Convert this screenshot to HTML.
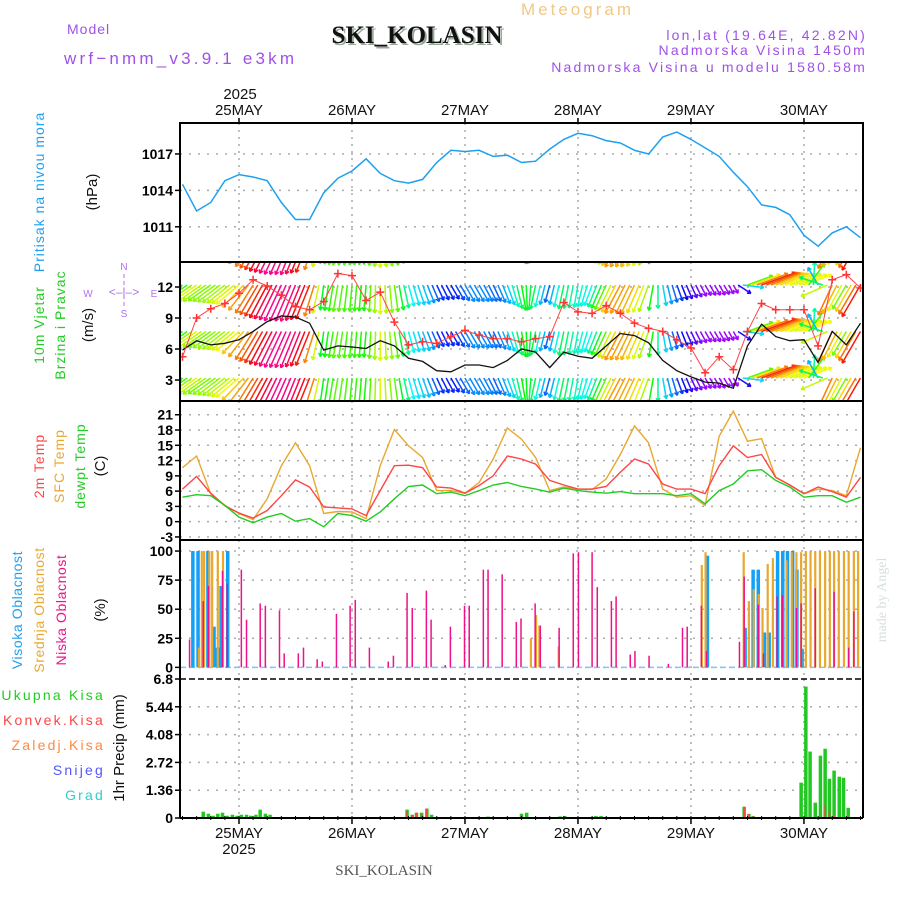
<!DOCTYPE html>
<html><head><meta charset="utf-8"><title>Meteogram SKI_KOLASIN</title>
<style>
html,body{margin:0;padding:0;background:#fff;}
svg{display:block;font-family:"Liberation Sans",sans-serif;}
</style></head>
<body>
<svg id="chart" width="900" height="900" viewBox="0 0 900 900" xmlns="http://www.w3.org/2000/svg">
<rect x="0" y="0" width="900" height="900" fill="#fff"/>
<g id="header">
  <text x="67" y="34" font-size="14" fill="#a050e8" letter-spacing="1">Model</text>
  <text x="64" y="64" font-size="17" fill="#a050e8" letter-spacing="3.2">wrf−nmm_v3.9.1 e3km</text>
  <text x="419" y="45" font-size="25" font-weight="bold" fill="#9a9" text-anchor="middle" font-family="Liberation Serif,serif">SKI_KOLASIN</text>
  <text x="417" y="43" font-size="25" font-weight="bold" fill="#111" text-anchor="middle" font-family="Liberation Serif,serif">SKI_KOLASIN</text>
  <text x="521" y="15" font-size="17" fill="#f0c888" letter-spacing="3">Meteogram</text>
  <text x="867" y="40" font-size="14" fill="#a050e8" text-anchor="end" letter-spacing="2.2">lon,lat (19.64E, 42.82N)</text>
  <text x="867" y="55" font-size="14" fill="#a050e8" text-anchor="end" letter-spacing="2.2">Nadmorska Visina 1450m</text>
  <text x="867" y="72" font-size="14" fill="#a050e8" text-anchor="end" letter-spacing="2.2">Nadmorska Visina u modelu 1580.58m</text>
  <text x="240" y="99" font-size="15" fill="#111" text-anchor="middle">2025</text>
  <text x="384" y="875" font-size="15" fill="#555" text-anchor="middle" font-family="Liberation Serif,serif">SKI_KOLASIN</text>
  <text transform="translate(886,600) rotate(-90)" font-size="14" fill="#d8e0d8" text-anchor="middle" font-family="Liberation Serif,serif">made by Angel</text>
</g>
<g id="sidelabels">
  <text transform="translate(44,192) rotate(-90)" font-size="14" fill="#1e9ff0" text-anchor="middle" letter-spacing="1">Pritisak na nivou mora</text>
  <text transform="translate(97,192) rotate(-90)" font-size="15" fill="#111" text-anchor="middle">(hPa)</text>
  <text transform="translate(44,325) rotate(-90)" font-size="14" fill="#22cc22" text-anchor="middle" letter-spacing="1">10m Vjetar</text>
  <text transform="translate(65,325) rotate(-90)" font-size="14" fill="#22cc22" text-anchor="middle" letter-spacing="1">Brzina i Pravac</text>
  <text transform="translate(93,325) rotate(-90)" font-size="15" fill="#111" text-anchor="middle">(m/s)</text>
  <g fill="#b070f0" font-size="10" text-anchor="middle">
    <text x="124" y="270">N</text>
    <text x="124" y="317">S</text>
    <text x="88" y="297">W</text>
    <text x="154" y="297">E</text>
    <text x="124" y="296" font-size="12">&lt;‒|‒&gt;</text>
    <line x1="124" y1="274" x2="124" y2="308" stroke="#b070f0" stroke-dasharray="4 3"/>
  </g>
  <text transform="translate(44,466) rotate(-90)" font-size="14" fill="#ff4444" text-anchor="middle" letter-spacing="1">2m Temp</text>
  <text transform="translate(64,466) rotate(-90)" font-size="14" fill="#e8a830" text-anchor="middle" letter-spacing="1">SFC Temp</text>
  <text transform="translate(85,466) rotate(-90)" font-size="14" fill="#22cc22" text-anchor="middle" letter-spacing="1">dewpt Temp</text>
  <text transform="translate(105,466) rotate(-90)" font-size="15" fill="#111" text-anchor="middle">(C)</text>
  <text transform="translate(22,610) rotate(-90)" font-size="14" fill="#1e9ff0" text-anchor="middle" letter-spacing="0.6">Visoka Oblacnost</text>
  <text transform="translate(44,610) rotate(-90)" font-size="14" fill="#e8a830" text-anchor="middle" letter-spacing="0.6">Srednja Oblacnost</text>
  <text transform="translate(66,610) rotate(-90)" font-size="14" fill="#ee1188" text-anchor="middle" letter-spacing="0.6">Niska Oblacnost</text>
  <text transform="translate(105,610) rotate(-90)" font-size="15" fill="#111" text-anchor="middle">(%)</text>
  <text x="105" y="700" font-size="14" fill="#22cc22" text-anchor="end" letter-spacing="2.2">Ukupna  Kisa</text>
  <text x="105" y="725" font-size="14" fill="#ff4444" text-anchor="end" letter-spacing="2.2">Konvek.Kisa</text>
  <text x="105" y="750" font-size="14" fill="#ff8844" text-anchor="end" letter-spacing="2.2">Zaledj.Kisa</text>
  <text x="105" y="775" font-size="14" fill="#5555ff" text-anchor="end" letter-spacing="2.2">Snijeg</text>
  <text x="105" y="800" font-size="14" fill="#33cccc" text-anchor="end" letter-spacing="2.2">Grad</text>
  <text transform="translate(124,748) rotate(-90)" font-size="15" fill="#111" text-anchor="middle">1hr Precip (mm)</text>
</g>
<g id="plots"></g>
</svg>
<script>
// ---- time axis ----
const dayLabels = ["25MAY","26MAY","27MAY","28MAY","29MAY","30MAY"];
const dayHours = [12,36,60,84,108,132];
const hours3 = [0,3,6,9,12,15,18,21,24,27,30,33,36,39,42,45,48,51,54,57,60,63,66,69,72,75,78,81,84,87,90,93,96,99,102,105,108,111,114,117,120,123,126,129,132,135,138,141,144];
// ---- pressure (hPa) ----
const pressure = [1014.5,1012.3,1013.0,1014.8,1015.3,1015.1,1014.8,1013.0,1011.6,1011.6,1013.8,1015.0,1015.6,1016.6,1015.4,1014.8,1014.6,1014.9,1016.3,1017.3,1017.2,1017.3,1016.8,1016.9,1016.3,1016.4,1017.4,1018.2,1018.7,1018.5,1018.1,1017.9,1017.3,1017.0,1018.4,1018.8,1018.2,1017.5,1016.8,1015.5,1014.3,1012.8,1012.6,1012.0,1010.3,1009.4,1010.5,1011.0,1010.1];
const pressureTicks = [1011,1014,1017];
// ---- wind ----
const windSpeed = [5.9,6.8,6.4,6.55,6.9,7.7,8.65,9.2,9.1,8.5,5.9,6.3,6.2,6.05,6.8,6.3,5.1,4.8,3.9,3.8,4.45,4.45,4.2,4.9,6.0,5.7,4.2,5.7,5.3,5.1,6.3,7.5,7.3,6.6,4.9,3.9,3.3,2.8,2.7,2.2,6.3,8.4,7.2,6.8,6.9,4.7,7.7,6.4,8.5];
const windGust = [5.25,9.0,9.9,10.4,11.4,12.7,12.1,11.2,10.1,9.8,10.6,13.3,13.1,10.7,11.5,8.6,6.4,6.7,6.55,7.2,7.8,7.35,7.0,7.0,6.7,7.0,7.2,10.5,9.6,9.45,10.2,9.45,8.5,8.0,7.7,6.9,6.1,3.7,5.25,4.0,7.7,10.4,9.8,9.8,9.8,6.3,12.7,13.2,11.9];
const windDirTo = [235,235,235,232,230,212,208,205,202,202,188,190,185,185,180,172,165,160,155,150,150,150,155,160,170,192,195,192,190,200,205,208,205,200,170,160,155,150,150,150,70,70,68,68,70,330,205,210,210];
const windTicks = [3,6,9,12];
// ---- temperature ----
const temp2m = [6.4,8.9,5.6,3.1,1.7,0.7,2.2,5.1,8.2,6.8,2.9,2.7,2.5,1.2,6.1,11,11.1,10.6,6.8,6.6,5.6,7.1,9.0,12.9,12.3,11.3,8.1,7.2,6.4,6.4,6.9,9.7,12.3,11.3,7.4,6.4,6.4,5.5,11,14.9,12.6,13.2,8.7,7.2,5.5,6.8,5.9,4.8,8.7];
const tempSfc = [10.6,12.9,5.5,3.2,1.6,0.4,4.5,11,15.5,11,1.6,2.0,1.9,0.6,11,18.1,14.9,12.6,6.1,6.1,5.6,7.7,12.3,18.4,16.2,12.6,6.1,6.8,6.4,6.3,8.4,13.2,18.8,15.5,6.4,4.8,5.1,3.2,16.8,21.7,15.8,16.3,8.7,7.2,5.5,6.4,6.1,5.1,14.5];
const tempDew = [4.8,5.3,5.1,3.2,0.9,-0.2,0.9,1.6,0.1,0.6,-1.0,1.6,1.2,0.1,1.9,4.5,6.9,7.2,5.5,5.8,5.1,6.1,7.2,7.7,6.9,6.4,5.8,6.6,6.1,5.8,5.6,5.9,5.5,5.5,5.5,5.1,5.5,3.5,6.1,7.4,10,10.2,8.1,6.8,4.8,5.1,5.1,3.8,4.8];
const tempTicks = [-3,0,3,6,9,12,15,18,21];
// ---- clouds (hour, %) ----
const lowCloudHours = [1.5,4.4,5.5,8.5,9.5,12.5,13.6,16.5,17.6,20.6,21.6,24.6,25.7,28.6,29.7,32.7,35.6,36.7,39.7,43.7,44.8,47.7,48.8,51.8,52.8,55.8,56.9,59.9,60.9,63.9,64.9,67.9,70.9,71.9,74.9,76,80,83,84.1,87,88.1,91.1,92.1,95.1,96.1,99.1,103.2,106.2,107.2,110.2,111.3,118.3,119.3,122.3,123.4,126.3,127.4,130.4,131.4,134.4,138.4,141.5,142.6];
const lowCloud = [24,57,70,83,72,84,41,55,53,49,12,12,17,7,5,46,53,58,17,5,10,64,51,66,41,2,35,53,53,84,84,80,39,42,55,36,34,98,99,99,69,57,61,11,14,10,3,34,35,53,14,22,78,54,12,61,62,51,55,68,65,17,48];
const midCloudHours = [3.5,4.1,4.6,5.7,6.3,7.5,8.6,74,75.1,75.8,79.9,110.3,111.1,119.2,120.3,121.3,122.4,123.2,124.3,125.4,128.3,129.4,130.4,131.4,132.4,133.4,134.4,135.4,136.5,137.5,138.4,139.4,140.5,141.5,142.6,143.5];
const midCloud = [17,100,100,100,100,100,100,25,45,36,18,88,99,99,57,67,63,51,89,94,92,99,99,99,100,100,100,100,100,100,100,100,100,100,100,100];
const highCloudHours = [2.2,3.3,5.4,6.7,7.3,7.8,8.2,9.6,111.5,119.5,121.2,122.3,123.6,124.6,126.4,127.5,128.5,129.6,130.5,131.6];
const highCloud = [100,100,100,35,17,17,70,100,96,34,84,84,30,30,100,100,100,100,84,16];
const cloudTicks = [0,25,50,75,100];
// ---- precipitation (hour, mm) ----
const precipHours = [4.4,5.5,6.5,7.5,8.5,9.5,10.6,11.6,12.5,13.6,14.5,15.6,16.5,17.6,18.6,47.7,48.8,49.7,50.8,51.9,52.9,64.9,72,73.1,80.2,81.2,87.8,88.9,119.3,120.3,121.2,131.4,132.4,133.3,134.4,135.5,136.5,137.4,138.4,139.5,140.4,141.4];
const precipTotal = [0.31,0.21,0.11,0.21,0.26,0.11,0.16,0.11,0.16,0.16,0.11,0.16,0.41,0.21,0.16,0.41,0.16,0.26,0.26,0.46,0.16,0.07,0.21,0.26,0.08,0.1,0.1,0.1,0.55,0.2,0.1,1.73,6.43,3.25,0.75,3.05,3.39,1.92,2.32,2.02,1.97,0.5];
const convHours = [47.7,48.8,49.7,50.8,51.9,72,119.3,120.3,121.2,135.5,136.5,137.4,138.4];
const convPrecip = [0.35,0.16,0.26,0.2,0.46,0.15,0.55,0.2,0.1,0.05,0.6,0.35,0.15];
const precipTicks = [0,1.36,2.72,4.08,5.44,6.8];

// ---------------- drawing ----------------
const NS = "http://www.w3.org/2000/svg";
const plots = document.getElementById("plots");
const X0 = 180, X1 = 863;
function xs(h){ return 182.5 + h * 4.708; }
const panels = {
  p:{top:123,bot:262,min:1008.1,max:1019.55},
  w:{top:262,bot:401,min:0.97,max:14.42},
  t:{top:401,bot:540,min:-3.6,max:23.7},
  c:{top:540,bot:679,min:-10,max:109.5},
  r:{top:679,bot:818,min:0,max:6.8}
};
function ys(p,v){ const P=panels[p]; return P.bot - (v-P.min)/(P.max-P.min)*(P.bot-P.top); }
function el(tag, attrs, parent){
  const e = document.createElementNS(NS, tag);
  for (const k in attrs) e.setAttribute(k, attrs[k]);
  (parent||plots).appendChild(e);
  return e;
}
const defs = el("defs",{});
for (const k in panels){
  const cp = el("clipPath",{id:"clip-"+k},defs);
  el("rect",{x:X0,y:panels[k].top,width:X1-X0,height:panels[k].bot-panels[k].top},cp);
}
function grid(p, ticks, labels){
  const g = el("g",{});
  
  
  ticks.forEach((v,i)=>{
    const y = ys(p,v);
    if (y > panels[p].top+1 && y < panels[p].bot-1) {
      const gl = el("line",{x1:X0,x2:X1,y1:y,y2:y,stroke:"#aaa","stroke-width":1.5,"stroke-dasharray":"2 7"},g);
      
      
    }
    el("line",{x1:X0-5,x2:X0,y1:y,y2:y,stroke:"#000","stroke-width":1.5},g);
    const t = el("text",{x:X0-7,y:y+5,"font-size":14,"text-anchor":"end",fill:"#000","font-weight":"bold"},g);
    t.textContent = labels ? labels[i] : v;
    
    
  });
  dayHours.forEach(h=>{
    const x = xs(h);
    el("line",{x1:x,x2:x,y1:panels[p].top,y2:panels[p].bot,stroke:"#aaa","stroke-width":1.5,"stroke-dasharray":"2 5"},g);
  });
}
function lineSeries(p, hs, vals, color, name, w){
  let d = "";
  vals.forEach((v,i)=>{ d += (i?"L":"M") + xs(hs[i]).toFixed(1) + "," + ys(p,v).toFixed(1); });
  const path = el("path",{d:d,fill:"none",stroke:color,"stroke-width":w||1.4,"clip-path":"url(#clip-"+p+")"});
  
  
  return path;
}
grid("p", pressureTicks);
grid("w", windTicks);
grid("t", tempTicks);
grid("c", cloudTicks);
grid("r", precipTicks, ["0","1.36","2.72","4.08","5.44","6.8"]);

lineSeries("p", hours3, pressure, "#1ea0f0", "pressure-line", 1.5);

const hueStops = [[2,280],[3,275],[4,225],[5,185],[6,120],[6.5,85],[7,55],[7.5,35],[8.5,5],[9.2,325],[14,320]];
function hueFor(s){
  for (let i=1;i<hueStops.length;i++){
    if (s <= hueStops[i][0]) {
      const a=hueStops[i-1], b=hueStops[i];
      const f=(s-a[0])/(b[0]-a[0]);
      let h1=a[1], h2=b[1];
      if (h2 - h1 > 180) h1 += 360;
      if (h1 - h2 > 180) h2 += 360;
      return (h1 + f*(h2-h1)) % 360;
    }
  }
  return 320;
}
const windG = el("g",{"clip-path":"url(#clip-w)"});


const rowBases = [238.5,285,331.5,378];
for (let i=0;i<hours3.length;i++){
  for (let sub=0; sub<3; sub++){
    if (i===hours3.length-1 && sub>0) break;
    const j = Math.min(i+1, hours3.length-1);
    const f = sub/3;
    const s = windSpeed[i] + (windSpeed[j]-windSpeed[i])*f;
    let d1 = windDirTo[i], d2 = windDirTo[j];
    let dd = d2 - d1; if (dd>180) dd-=360; if (dd<-180) dd+=360;
    const dir = (d1 + dd*f) * Math.PI/180;
    const h = hours3[i] + 3*f;
    const x = xs(h);
    const L = 4.3*s;
    const dx = L*Math.sin(dir), dy = -L*Math.cos(dir);
    const col = "hsl(" + hueFor(s).toFixed(0) + ",95%,50%)";
    rowBases.forEach(yb=>{
      const a = el("g",{stroke:col,"stroke-width":1.5,fill:"none"},windG);
      
      
      const tx = x+dx, ty = yb+dy;
      el("line",{x1:x,y1:yb,x2:tx,y2:ty},a);
      const ang = Math.atan2(dy,dx);
      [2.6,-2.6].forEach(o=>{
        el("line",{x1:tx,y1:ty,x2:tx-4*Math.cos(ang+o*0.2),y2:ty-4*Math.sin(ang+o*0.2)},a);
      });
    });
  }
}
lineSeries("w", hours3, windSpeed, "#111", "wind-speed-line", 1.3);
lineSeries("w", hours3, windGust, "#ff4444", "wind-gust-line", 1);
windGust.forEach((v,i)=>{
  const x = xs(hours3[i]), y = ys("w",v);
  const c = el("path",{d:"M"+(x-4)+","+y+"h8M"+x+","+(y-4)+"v8",stroke:"#ff3333","stroke-width":1.5,"clip-path":"url(#clip-w)"});
  
  
});

lineSeries("t", hours3, tempSfc, "#e8a830", "sfc-temp-line", 1.4);
lineSeries("t", hours3, temp2m, "#ff4444", "temp-2m-line", 1.4);
lineSeries("t", hours3, tempDew, "#22cc22", "dewpt-line", 1.4);

const base0 = ys("c",0);
const cb = el("line",{x1:X0,x2:X1,y1:base0,y2:base0,stroke:"#7ec8f0","stroke-width":1.5,"stroke-dasharray":"6 3"});


function bars(p, hs, vals, color, w, name){
  vals.forEach((v,i)=>{
    const x = xs(hs[i]), y = ys(p,v), y0 = ys(p,0);
    const r = el("rect",{x:x-w/2,y:y,width:w,height:Math.max(0,y0-y),fill:color,"clip-path":"url(#clip-"+p+")"});
    
    
  });
}
bars("c", highCloudHours, highCloud, "#12a0f8", 3.5, "high-cloud-bar");
bars("c", midCloudHours, midCloud, "#e8a830", 2.2, "mid-cloud-bar");
bars("c", lowCloudHours, lowCloud, "#ee1188", 1.5, "low-cloud-bar");

bars("r", precipHours, precipTotal, "#22c822", 3.5, "precip-total-bar");
bars("r", convHours, convPrecip, "#ff4444", 1.6, "precip-convective-bar");

const top6 = ys("r",6.8);
const dl = el("line",{x1:X0,x2:X1,y1:top6,y2:top6,stroke:"#000","stroke-width":1.5,"stroke-dasharray":"6 3"});


const frame = el("g",{fill:"none",stroke:"#000","stroke-width":2});


el("rect",{x:X0,y:123,width:X1-X0,height:417},frame);
el("line",{x1:X0,x2:X1,y1:262,y2:262},frame);
el("line",{x1:X0,x2:X1,y1:401,y2:401},frame);
el("line",{x1:X0,x2:X0,y1:540,y2:818},frame);
el("line",{x1:X1,x2:X1,y1:540,y2:818},frame);
el("line",{x1:X0,x2:X1,y1:818,y2:818},frame);
dayLabels.forEach((lab,i)=>{
  const x = xs(dayHours[i]);
  el("line",{x1:x,x2:x,y1:118,y2:123,stroke:"#000","stroke-width":1.5});
  el("line",{x1:x,x2:x,y1:818,y2:824,stroke:"#000","stroke-width":1.5});
  const t1 = el("text",{x:x,y:115,"font-size":15,"text-anchor":"middle",fill:"#111"});
  t1.textContent = lab;
  
  
  const t2 = el("text",{x:x,y:838,"font-size":15,"text-anchor":"middle",fill:"#111"});
  t2.textContent = lab;
  
  
});
for (let h=0; h<=144; h+=3){
  const x = xs(h);
  el("line",{x1:x,x2:x,y1:816,y2:820,stroke:"#000","stroke-width":1});
}
const yb = el("text",{x:xs(12),y:854,"font-size":15,"text-anchor":"middle",fill:"#111"});
yb.textContent = "2025";


</script>
</body></html>
